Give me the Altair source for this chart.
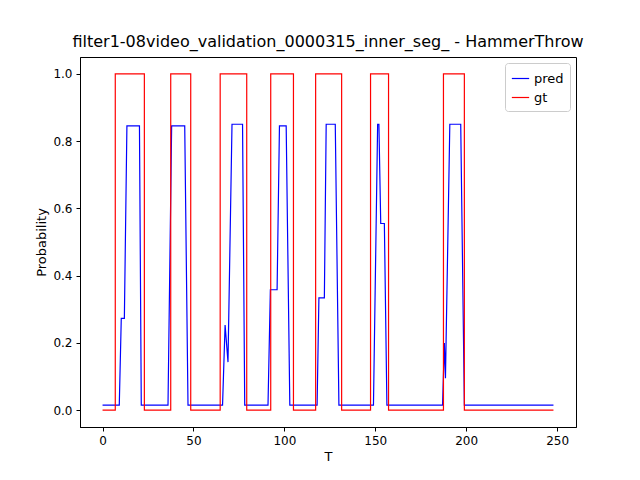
import pandas as pd
import altair as alt

# ground-truth segments (step edges)
gt_x = [0, 7, 7, 23, 23, 37.5, 37.5, 48.5, 48.5, 64.7, 64.7, 79.3, 79.3, 92.5, 92.5, 105, 105,
        117.2, 117.2, 131.5, 131.5, 147.4, 147.4, 157.3, 157.3, 187.5, 187.5, 199, 199, 248]
gt_y = [0, 0, 1, 1, 0, 0, 1, 1, 0, 0, 1, 1, 0, 0, 1, 1, 0,
        0, 1, 1, 0, 0, 1, 1, 0, 0, 1, 1, 0, 0]

# prediction trace
pred_x = [0, 9.2, 10.3, 12, 13.4, 20.3, 21.3, 36, 38, 45.2, 47, 66, 67.4, 69, 71.2, 77, 78.2,
          91, 92.3, 96, 97.3, 101, 103, 118, 119, 122, 123, 128, 130, 149, 151.3, 152, 153,
          155, 156.4, 187, 188, 188.6, 191, 197, 199, 248]
pred_y = [0.015, 0.015, 0.273, 0.273, 0.845, 0.845, 0.015, 0.015, 0.845, 0.845, 0.015, 0.015,
          0.253, 0.143, 0.85, 0.85, 0.015, 0.015, 0.358, 0.358, 0.845, 0.845, 0.015, 0.015,
          0.334, 0.334, 0.85, 0.85, 0.015, 0.015, 0.85, 0.85, 0.555, 0.555, 0.015, 0.015,
          0.20, 0.095, 0.85, 0.85, 0.015, 0.015]

df = pd.concat([
    pd.DataFrame({"T": pred_x, "p": pred_y, "series": "pred", "o": range(len(pred_x))}),
    pd.DataFrame({"T": gt_x, "p": gt_y, "series": "gt", "o": range(len(gt_x))}),
])

font = "DejaVu Sans"
chart = alt.Chart(df, title=alt.Title(
    "filter1-08video_validation_0000315_inner_seg_ - HammerThrow",
    fontSize=16, fontWeight="normal", font=font, color="black", offset=7)
).mark_line(strokeWidth=1.2).encode(
    x=alt.X("T:Q", scale=alt.Scale(domain=[-12.4, 260.4], nice=False, zero=False),
            axis=alt.Axis(values=[0, 50, 100, 150, 200, 250], title="T")),
    y=alt.Y("p:Q", scale=alt.Scale(domain=[-0.05, 1.05], nice=False),
            axis=alt.Axis(values=[0, 0.2, 0.4, 0.6, 0.8, 1.0], format=".1f", title="Probability")),
    color=alt.Color("series:N", sort=["pred", "gt"],
                    scale=alt.Scale(domain=["pred", "gt"], range=["blue", "red"]),
                    legend=alt.Legend(title=None, orient="top-right", offset=6, symbolType="stroke",
                                      strokeColor="#cccccc", padding=6, cornerRadius=3,
                                      fillColor="white", labelFontSize=13, labelFont=font,
                                      symbolStrokeWidth=1.2, symbolSize=300)),
    order="o:Q",
    detail="series:N",
).properties(
    width=496, height=370, autosize="none",
    padding={"left": 72, "top": 49, "right": 56, "bottom": 45},
).configure_axis(
    grid=False, domainColor="black", tickColor="black", labelColor="black",
    titleColor="black", labelFont=font, titleFont=font, labelFontSize=12,
    titleFontSize=13, titleFontWeight="normal", tickSize=4, labelPadding=4,
).configure_view(stroke="black", strokeWidth=1)

chart.save("out.html", embed_options={"renderer": "svg", "actions": False})
